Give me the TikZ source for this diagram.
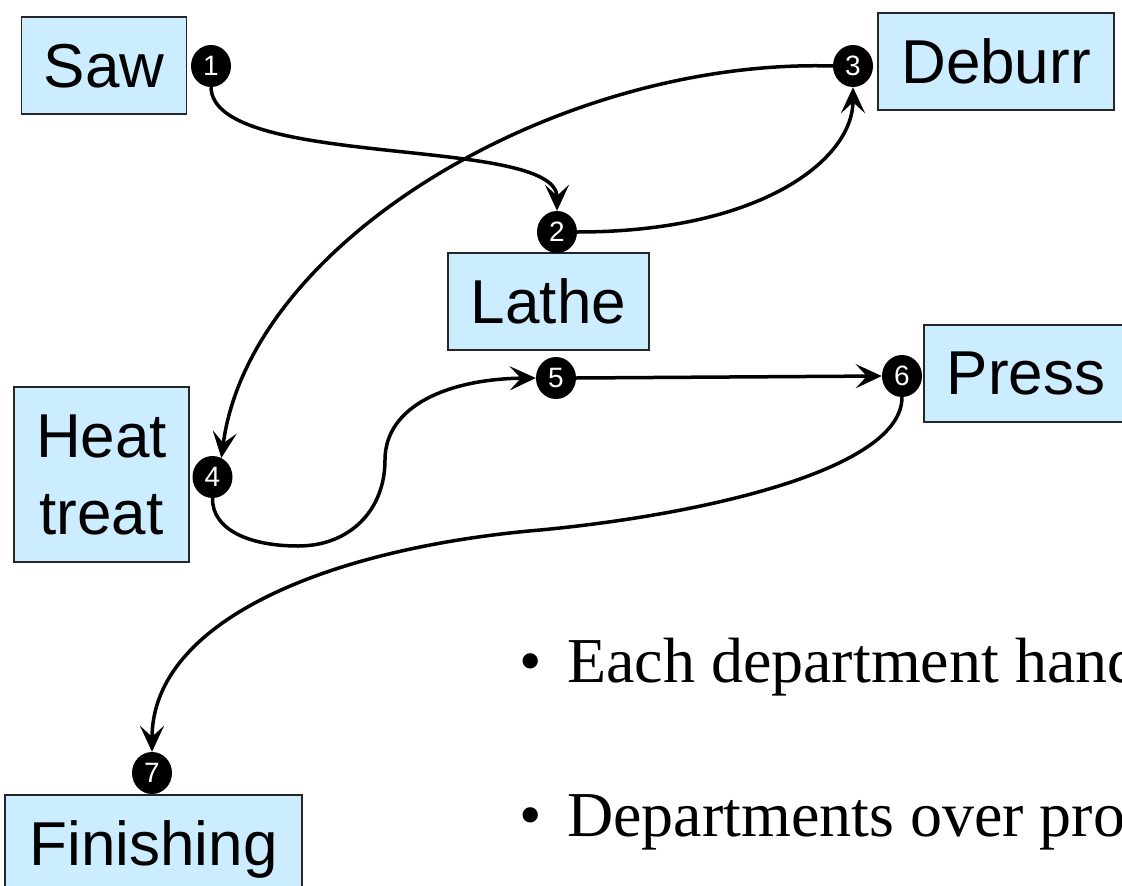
\documentclass[tikz,border=0pt]{standalone}
\usepackage{fontspec}
\setmainfont{Liberation Serif}
\setsansfont{Liberation Sans}
\usetikzlibrary{arrows.meta,shapes.geometric}
\definecolor{deptfill}{RGB}{204,236,255}
\begin{document}
\begin{tikzpicture}[x=1pt,y=-1pt,
  dept/.style={draw=black!85, line width=1.5pt, fill=deptfill,
    font=\sffamily\fontsize{62}{77}\selectfont, text depth=0pt,
    inner sep=0pt, minimum height=97pt},
  stepdot/.style={ellipse, fill=black, inner sep=0pt,
    minimum width=40pt, minimum height=42pt, text=white,
    font=\sffamily\fontsize{28}{28}\selectfont},
  flow/.style={line width=3.5pt, -{Stealth[length=26pt,width=24pt,inset=11pt]}},
  plain/.style={line width=3.5pt},
  bullettext/.style={anchor=base west, inner sep=0pt,
    font=\fontsize{64}{70}\selectfont}
]
\useasboundingbox (0,0) rectangle (1122,886);
\clip (0,0) rectangle (1122,886);

% departments
\node[dept, minimum width=165pt] (saw) at (104,65.5) {Saw};
\node[dept, minimum width=236pt] (deburr) at (996,61.5) {Deburr};
\node[dept, minimum width=201pt] (lathe) at (548.5,301.5) {Lathe};
\node[dept, minimum width=204pt] (press) at (1026,373.5) {Press};
\node[dept, minimum width=175pt, minimum height=175pt, align=center]
  (heat) at (101.5,474.5) {Heat\\treat};
\node[dept, minimum width=297pt] (finish) at (153.5,843.5) {Finishing};

% route steps
\node[stepdot] (c1) at (211,66) {1};
\node[stepdot] (c2) at (557,232) {2};
\node[stepdot] (c3) at (853,66) {3};
\node[stepdot] (c4) at (212.5,477) {4};
\node[stepdot] (c5) at (556,378) {5};
\node[stepdot] (c6) at (902,376) {6};
\node[stepdot] (c7) at (152,773) {7};

% routing of the part between departments
\draw[flow] (c1.south) .. controls (213,170) and (557,135) .. (c2.north);
\draw[flow] (c2.east) .. controls (760,232) and (853,160) .. (c3.south);
\draw[flow] (c3.west) .. controls (560,58) and (250,240) .. (c4.65);
\draw[plain] (c4.south) .. controls (212,530) and (250,546) .. (298,546)
  .. controls (350,546) and (385,510) .. (385,460);
\coordinate (bend) at (385,460);
\draw[flow] (bend) .. controls (385,405) and (450,379) .. (c5.west);
\draw[flow] (c5.east) -- (c6.west);
\coordinate (mid) at (540,530);
\draw[plain] (c6.south) .. controls (902,470) and (700,515) .. (mid);
\draw[flow] (mid) .. controls (330,548) and (152,620) .. (c7.north);

% bullet points
\node[bullettext] (b1) at (519,682) {\textbullet};
\node[bullettext] (t1) at (567,682) {Each department hand};
\node[bullettext] (b2) at (519,836) {\textbullet};
\node[bullettext] (t2) at (567,836) {Departments over pro};
\end{tikzpicture}
\end{document}
